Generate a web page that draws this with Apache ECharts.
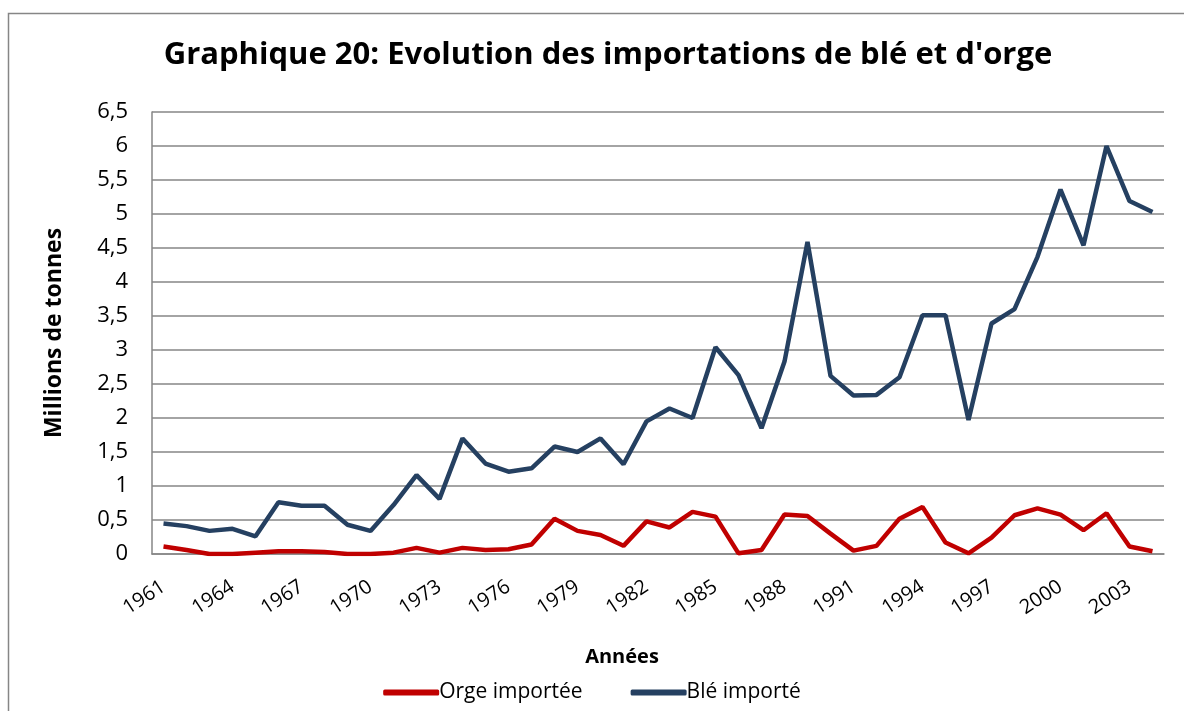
<!DOCTYPE html>
<html>
<head>
<meta charset="utf-8">
<script src="https://cdn.jsdelivr.net/npm/echarts@6/dist/echarts.min.js"></script>
<style>
  html, body { margin: 0; padding: 0; background: #fff; }
  #main { width: 1184px; height: 711px; }
</style>
</head>
<body>
<div id="main"></div>
<script>
// années 1961 - 2004
var years = [];
for (var y = 1961; y <= 2004; y++) years.push(String(y));

// millions de tonnes
var orge = [0.11, 0.06, 0.00, 0.00, 0.02, 0.04, 0.04, 0.03, 0.00, 0.00,
            0.02, 0.09, 0.02, 0.09, 0.06, 0.07, 0.14, 0.52, 0.34, 0.28,
            0.12, 0.48, 0.39, 0.62, 0.55, 0.01, 0.06, 0.58, 0.56, 0.30,
            0.05, 0.12, 0.52, 0.69, 0.17, 0.01, 0.24, 0.57, 0.67, 0.58,
            0.35, 0.60, 0.11, 0.04];

var ble = [0.45, 0.41, 0.34, 0.37, 0.26, 0.76, 0.71, 0.71, 0.43, 0.34,
           0.72, 1.16, 0.81, 1.70, 1.33, 1.21, 1.26, 1.58, 1.50, 1.70,
           1.32, 1.95, 2.14, 2.00, 3.04, 2.63, 1.85, 2.83, 4.59, 2.62,
           2.33, 2.34, 2.60, 3.51, 3.51, 1.97, 3.39, 3.60, 4.37, 5.36,
           4.54, 6.00, 5.19, 5.03];

var font = 'Open Sans';
var gris = '#868686';

onload = function () {
    var myChart = echarts.init(document.getElementById('main'));

    myChart.setOption({
        backgroundColor: '#fff',
        animation: false,
        textStyle: { fontFamily: font },
        title: {
            text: "Graphique 20: Evolution des importations de blé et d'orge",
            left: 603,
            textAlign: 'center',
            top: 35,
            textStyle: { fontFamily: font, fontSize: 31, fontWeight: 'bold', color: '#000' }
        },
        legend: {
            bottom: 3,
            left: 'center',
            itemGap: 48,
            itemWidth: 56,
            itemHeight: 6,
            icon: 'roundRect',
            textStyle: { fontFamily: font, fontSize: 21, color: '#000', padding: [0, 0, 0, -5] },
            data: ['Orge importée', 'Blé importé']
        },
        grid: { left: 152, right: 20, top: 112, bottom: 157 },
        xAxis: {
            type: 'category',
            data: years,
            boundaryGap: true,
            name: 'Années',
            nameLocation: 'middle',
            nameGap: 93,
            nameTextStyle: { fontFamily: font, fontSize: 20, fontWeight: 'bold', color: '#000', padding: [0, 72, 0, 0] },
            axisLine: { lineStyle: { color: gris, width: 1.5 } },
            axisTick: { interval: 0, length: 6, lineStyle: { color: gris, width: 1.5 } },
            axisLabel: {
                interval: 2,
                rotate: 33,
                margin: 31,
                fontFamily: font,
                fontSize: 20,
                color: '#000'
            }
        },
        yAxis: {
            type: 'value',
            min: 0,
            max: 6.5,
            interval: 0.5,
            name: 'Millions de tonnes',
            nameLocation: 'middle',
            nameGap: 86,
            nameTextStyle: { fontFamily: font, fontSize: 23, fontWeight: 'bold', color: '#000' },
            axisLine: { show: true, lineStyle: { color: gris, width: 1.5 } },
            axisTick: { show: false },
            splitLine: { lineStyle: { color: gris, width: 1.5 } },
            axisLabel: {
                margin: 24,
                fontFamily: font,
                fontSize: 22,
                color: '#000',
                formatter: function (v) { return String(v).replace('.', ','); }
            }
        },
        graphic: [{
            type: 'rect',
            shape: { x: 8.5, y: 13.5, width: 1300, height: 800 },
            style: { fill: 'none', stroke: gris, lineWidth: 1.5 },
            silent: true
        }],
        series: [
            {
                name: 'Orge importée',
                type: 'line',
                data: orge,
                showSymbol: false,
                symbol: 'none',
                itemStyle: { color: '#C00000' },
                lineStyle: { color: '#C00000', width: 4.5 }
            },
            {
                name: 'Blé importé',
                type: 'line',
                data: ble,
                showSymbol: false,
                symbol: 'none',
                itemStyle: { color: '#254061' },
                lineStyle: { color: '#254061', width: 4.5 }
            }
        ]
    });
};
</script>
</body>
</html>
